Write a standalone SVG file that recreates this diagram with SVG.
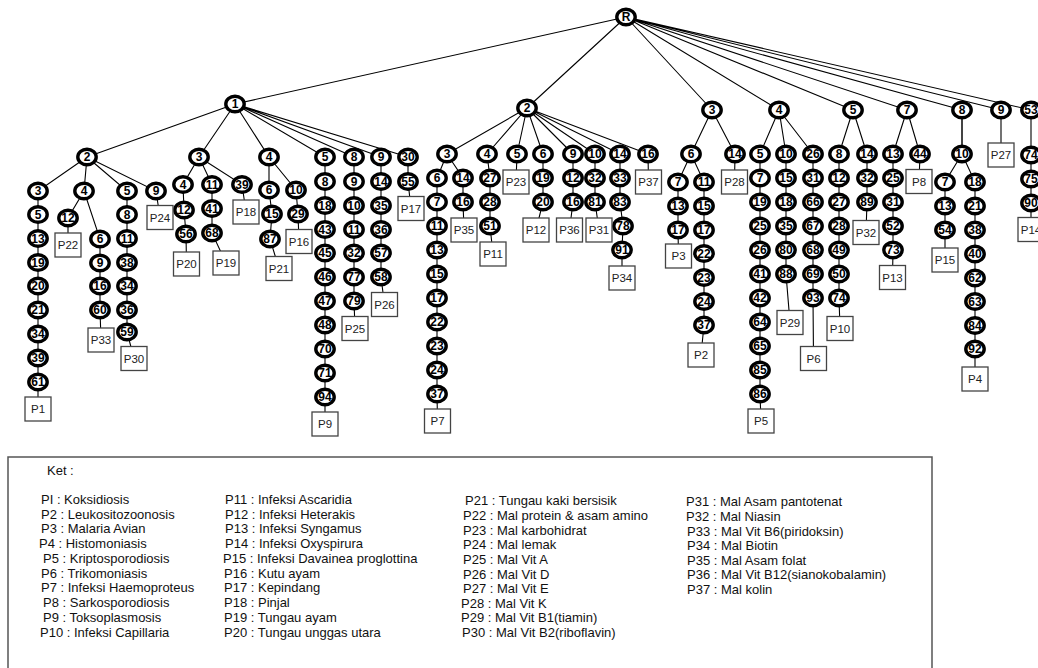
<svg xmlns="http://www.w3.org/2000/svg" width="1038" height="668" viewBox="0 0 1038 668">
<style>
.e path{stroke:#000;stroke-width:1.1;fill:none}
.nd ellipse{fill:#fff;stroke:#000;stroke-width:3.4}
.nd text{font-family:"Liberation Sans",Arial,sans-serif;font-weight:bold;font-size:12px;text-anchor:middle;fill:#000}
.bx rect{fill:#fff;stroke:#444;stroke-width:1.3}
.bx text{font-family:"Liberation Sans",Arial,sans-serif;font-size:11.5px;text-anchor:middle;fill:#222}
.lg text{font-family:"Liberation Sans",Arial,sans-serif;font-size:13px;fill:#111}
</style>
<rect width="1038" height="668" fill="#fff"/>
<g id="connectors" class="e">
<path d="M626 17L235 104M626 17L527 108M626 17L712 110M626 17L779 110M626 17L853 110M626 17L907 110M626 17L962 110M626 17L1001 110M626 17L1031 110"/>
<path d="M235 104L87 157M235 104L199 157M235 104L269 157M235 104L325 157M235 104L354 157M235 104L381 157M235 104L408 157"/>
<path d="M87 157L38 191L38 409M87 157L84 191M84 191L68 218L68 245M84 191L100 239L100 310L101 340M87 157L127 191L127 332L134 358.5M87 157L156 191L160 217.5"/>
<path d="M199 157L183 184.5L184 210L186 234L186.5 264M199 157L212 184.5L212 233L226 263M199 157L242 184.5L246 212"/>
<path d="M269 157L269 190L272 214L270 239L279 268.5M269 157L296 190L298 214L299 241.5"/>
<path d="M325 157L325 424M354 157L354 301L355 328.5M381 157L381 277L384.5 304.5M408 157L408 181.5L411 208.5"/>
<path d="M527 108L447 154M527 108L487 154M527 108L517 154M527 108L543 154M527 108L573 154M527 108L595 154M527 108L620 154M527 108L648 154"/>
<path d="M447 154L437 178L437 394L437.5 421M447 154L463 178L463 202L464 230M487 154L490 178L490 226L493 254M517 154L516 182M543 154L543 202L536 230M573 154L573 202L569.5 230M595 154L595 202L599 230M620 154L620 202L623 226L622 250L622 278M648 154L648.5 182"/>
<path d="M712 110L691 154M712 110L735 154M691 154L678 182L678 230L678.5 256M691 154L704 182L704 325L701 355M735 154L734.5 182"/>
<path d="M779 110L760 154M779 110L786 154M779 110L813 154M760 154L760 394L761 421M786 154L786 274L790 322.5M813 154L813 298L813.5 358.5"/>
<path d="M853 110L839 154M853 110L867 154M839 154L839 298L840 328.5M867 154L867 202L866 232.5"/>
<path d="M907 110L893 154M907 110L920 154M893 154L893 250L892.5 277.5M920 154L919 181.5"/>
<path d="M962 110L962 154" style="stroke:#444;stroke-width:2"/>
<path d="M962 154L945 182L945 260M962 154L975 182L975 379M1001 110L1001 155M1031 110L1031 229.5"/>
</g>
<g id="nodes">
<g id="n0" class="nd" transform="translate(626,17)"><ellipse rx="9.2" ry="7.8"/><text y="4.3">R</text></g>
<g id="n1" class="nd" transform="translate(235,104)"><ellipse rx="9.2" ry="7.8"/><text y="4.3">1</text></g>
<g id="n2" class="nd" transform="translate(527,108)"><ellipse rx="9.2" ry="7.8"/><text y="4.3">2</text></g>
<g id="n3" class="nd" transform="translate(712,110)"><ellipse rx="9.2" ry="7.8"/><text y="4.3">3</text></g>
<g id="n4" class="nd" transform="translate(779,110)"><ellipse rx="9.2" ry="7.8"/><text y="4.3">4</text></g>
<g id="n5" class="nd" transform="translate(853,110)"><ellipse rx="9.2" ry="7.8"/><text y="4.3">5</text></g>
<g id="n7" class="nd" transform="translate(907,110)"><ellipse rx="9.2" ry="7.8"/><text y="4.3">7</text></g>
<g id="n8" class="nd" transform="translate(962,110)"><ellipse rx="9.2" ry="7.8"/><text y="4.3">8</text></g>
<g id="n9" class="nd" transform="translate(1001,110)"><ellipse rx="9.2" ry="7.8"/><text y="4.3">9</text></g>
<g id="n53" class="nd" transform="translate(1031,110)"><ellipse rx="9.2" ry="7.8"/><text y="4.3">53</text></g>

<g id="a01" class="nd" transform="translate(87,157)"><ellipse rx="9.2" ry="7.8"/><text y="4.3">2</text></g>
<g id="a02" class="nd" transform="translate(199,157)"><ellipse rx="9.2" ry="7.8"/><text y="4.3">3</text></g>
<g id="a03" class="nd" transform="translate(269,157)"><ellipse rx="9.2" ry="7.8"/><text y="4.3">4</text></g>
<g id="a04" class="nd" transform="translate(325,157)"><ellipse rx="9.2" ry="7.8"/><text y="4.3">5</text></g>
<g id="a05" class="nd" transform="translate(354,157)"><ellipse rx="9.2" ry="7.8"/><text y="4.3">8</text></g>
<g id="a06" class="nd" transform="translate(381,157)"><ellipse rx="9.2" ry="7.8"/><text y="4.3">9</text></g>
<g id="a07" class="nd" transform="translate(408,157)"><ellipse rx="9.2" ry="7.8"/><text y="4.3">30</text></g>
<g id="a08" class="nd" transform="translate(38,191)"><ellipse rx="9.2" ry="7.8"/><text y="4.3">3</text></g>
<g id="a09" class="nd" transform="translate(38,214.5)"><ellipse rx="9.2" ry="7.8"/><text y="4.3">5</text></g>
<g id="a10" class="nd" transform="translate(38,238.5)"><ellipse rx="9.2" ry="7.8"/><text y="4.3">13</text></g>
<g id="a11" class="nd" transform="translate(38,262.5)"><ellipse rx="9.2" ry="7.8"/><text y="4.3">19</text></g>
<g id="a12" class="nd" transform="translate(38,286)"><ellipse rx="9.2" ry="7.8"/><text y="4.3">20</text></g>
<g id="a13" class="nd" transform="translate(38,310)"><ellipse rx="9.2" ry="7.8"/><text y="4.3">21</text></g>
<g id="a14" class="nd" transform="translate(38,334)"><ellipse rx="9.2" ry="7.8"/><text y="4.3">34</text></g>
<g id="a15" class="nd" transform="translate(38,358)"><ellipse rx="9.2" ry="7.8"/><text y="4.3">39</text></g>
<g id="a16" class="nd" transform="translate(38,382)"><ellipse rx="9.2" ry="7.8"/><text y="4.3">61</text></g>
<g id="a17" class="nd" transform="translate(84,191)"><ellipse rx="9.2" ry="7.8"/><text y="4.3">4</text></g>
<g id="a18" class="nd" transform="translate(68,218)"><ellipse rx="9.2" ry="7.8"/><text y="4.3">12</text></g>
<g id="a19" class="nd" transform="translate(100,239)"><ellipse rx="9.2" ry="7.8"/><text y="4.3">6</text></g>
<g id="a20" class="nd" transform="translate(100,263)"><ellipse rx="9.2" ry="7.8"/><text y="4.3">9</text></g>
<g id="a21" class="nd" transform="translate(100,286)"><ellipse rx="9.2" ry="7.8"/><text y="4.3">16</text></g>
<g id="a22" class="nd" transform="translate(100,310)"><ellipse rx="9.2" ry="7.8"/><text y="4.3">60</text></g>
<g id="a23" class="nd" transform="translate(127,191)"><ellipse rx="9.2" ry="7.8"/><text y="4.3">5</text></g>
<g id="a24" class="nd" transform="translate(127,214.5)"><ellipse rx="9.2" ry="7.8"/><text y="4.3">8</text></g>
<g id="a25" class="nd" transform="translate(127,238.5)"><ellipse rx="9.2" ry="7.8"/><text y="4.3">11</text></g>
<g id="a26" class="nd" transform="translate(127,262.5)"><ellipse rx="9.2" ry="7.8"/><text y="4.3">38</text></g>
<g id="a27" class="nd" transform="translate(127,286)"><ellipse rx="9.2" ry="7.8"/><text y="4.3">34</text></g>
<g id="a28" class="nd" transform="translate(127,310)"><ellipse rx="9.2" ry="7.8"/><text y="4.3">36</text></g>
<g id="a29" class="nd" transform="translate(127,332)"><ellipse rx="9.2" ry="7.8"/><text y="4.3">59</text></g>
<g id="a30" class="nd" transform="translate(156,191)"><ellipse rx="9.2" ry="7.8"/><text y="4.3">9</text></g>
<g id="a31" class="nd" transform="translate(183,184.5)"><ellipse rx="9.2" ry="7.8"/><text y="4.3">4</text></g>
<g id="a32" class="nd" transform="translate(184,210)"><ellipse rx="9.2" ry="7.8"/><text y="4.3">12</text></g>
<g id="a33" class="nd" transform="translate(186,234)"><ellipse rx="9.2" ry="7.8"/><text y="4.3">56</text></g>
<g id="a34" class="nd" transform="translate(212,184.5)"><ellipse rx="9.2" ry="7.8"/><text y="4.3">11</text></g>
<g id="a35" class="nd" transform="translate(212,208.5)"><ellipse rx="9.2" ry="7.8"/><text y="4.3">41</text></g>
<g id="a36" class="nd" transform="translate(212,233)"><ellipse rx="9.2" ry="7.8"/><text y="4.3">68</text></g>
<g id="a37" class="nd" transform="translate(242,184.5)"><ellipse rx="9.2" ry="7.8"/><text y="4.3">39</text></g>
<g id="a38" class="nd" transform="translate(269,190)"><ellipse rx="9.2" ry="7.8"/><text y="4.3">6</text></g>
<g id="a39" class="nd" transform="translate(272,214)"><ellipse rx="9.2" ry="7.8"/><text y="4.3">15</text></g>
<g id="a40" class="nd" transform="translate(270,239)"><ellipse rx="9.2" ry="7.8"/><text y="4.3">87</text></g>
<g id="a41" class="nd" transform="translate(296,190)"><ellipse rx="9.2" ry="7.8"/><text y="4.3">10</text></g>
<g id="a42" class="nd" transform="translate(298,214)"><ellipse rx="9.2" ry="7.8"/><text y="4.3">29</text></g>
<g id="a43" class="nd" transform="translate(325,181.5)"><ellipse rx="9.2" ry="7.8"/><text y="4.3">8</text></g>
<g id="a44" class="nd" transform="translate(325,205.5)"><ellipse rx="9.2" ry="7.8"/><text y="4.3">18</text></g>
<g id="a45" class="nd" transform="translate(325,229.5)"><ellipse rx="9.2" ry="7.8"/><text y="4.3">43</text></g>
<g id="a46" class="nd" transform="translate(325,253)"><ellipse rx="9.2" ry="7.8"/><text y="4.3">45</text></g>
<g id="a47" class="nd" transform="translate(325,277)"><ellipse rx="9.2" ry="7.8"/><text y="4.3">46</text></g>
<g id="a48" class="nd" transform="translate(325,301)"><ellipse rx="9.2" ry="7.8"/><text y="4.3">47</text></g>
<g id="a49" class="nd" transform="translate(325,325)"><ellipse rx="9.2" ry="7.8"/><text y="4.3">48</text></g>
<g id="a50" class="nd" transform="translate(325,349)"><ellipse rx="9.2" ry="7.8"/><text y="4.3">70</text></g>
<g id="a51" class="nd" transform="translate(325,373)"><ellipse rx="9.2" ry="7.8"/><text y="4.3">71</text></g>
<g id="a52" class="nd" transform="translate(325,397)"><ellipse rx="9.2" ry="7.8"/><text y="4.3">94</text></g>
<g id="a53" class="nd" transform="translate(354,181.5)"><ellipse rx="9.2" ry="7.8"/><text y="4.3">9</text></g>
<g id="a54" class="nd" transform="translate(354,205.5)"><ellipse rx="9.2" ry="7.8"/><text y="4.3">10</text></g>
<g id="a55" class="nd" transform="translate(354,229.5)"><ellipse rx="9.2" ry="7.8"/><text y="4.3">11</text></g>
<g id="a56" class="nd" transform="translate(354,253)"><ellipse rx="9.2" ry="7.8"/><text y="4.3">32</text></g>
<g id="a57" class="nd" transform="translate(354,277)"><ellipse rx="9.2" ry="7.8"/><text y="4.3">77</text></g>
<g id="a58" class="nd" transform="translate(354,301)"><ellipse rx="9.2" ry="7.8"/><text y="4.3">79</text></g>
<g id="a59" class="nd" transform="translate(381,181.5)"><ellipse rx="9.2" ry="7.8"/><text y="4.3">14</text></g>
<g id="a60" class="nd" transform="translate(381,205.5)"><ellipse rx="9.2" ry="7.8"/><text y="4.3">35</text></g>
<g id="a61" class="nd" transform="translate(381,229.5)"><ellipse rx="9.2" ry="7.8"/><text y="4.3">36</text></g>
<g id="a62" class="nd" transform="translate(381,253)"><ellipse rx="9.2" ry="7.8"/><text y="4.3">57</text></g>
<g id="a63" class="nd" transform="translate(381,277)"><ellipse rx="9.2" ry="7.8"/><text y="4.3">58</text></g>
<g id="a64" class="nd" transform="translate(408,181.5)"><ellipse rx="9.2" ry="7.8"/><text y="4.3">55</text></g>

<g id="b01" class="nd" transform="translate(447,154)"><ellipse rx="9.2" ry="7.8"/><text y="4.3">3</text></g>
<g id="b02" class="nd" transform="translate(487,154)"><ellipse rx="9.2" ry="7.8"/><text y="4.3">4</text></g>
<g id="b03" class="nd" transform="translate(517,154)"><ellipse rx="9.2" ry="7.8"/><text y="4.3">5</text></g>
<g id="b04" class="nd" transform="translate(543,154)"><ellipse rx="9.2" ry="7.8"/><text y="4.3">6</text></g>
<g id="b05" class="nd" transform="translate(573,154)"><ellipse rx="9.2" ry="7.8"/><text y="4.3">9</text></g>
<g id="b06" class="nd" transform="translate(595,154)"><ellipse rx="9.2" ry="7.8"/><text y="4.3">10</text></g>
<g id="b07" class="nd" transform="translate(620,154)"><ellipse rx="9.2" ry="7.8"/><text y="4.3">14</text></g>
<g id="b08" class="nd" transform="translate(648,154)"><ellipse rx="9.2" ry="7.8"/><text y="4.3">16</text></g>
<g id="b09" class="nd" transform="translate(437,178)"><ellipse rx="9.2" ry="7.8"/><text y="4.3">6</text></g>
<g id="b10" class="nd" transform="translate(437,202)"><ellipse rx="9.2" ry="7.8"/><text y="4.3">7</text></g>
<g id="b11" class="nd" transform="translate(437,226)"><ellipse rx="9.2" ry="7.8"/><text y="4.3">11</text></g>
<g id="b12" class="nd" transform="translate(437,250)"><ellipse rx="9.2" ry="7.8"/><text y="4.3">13</text></g>
<g id="b13" class="nd" transform="translate(437,274)"><ellipse rx="9.2" ry="7.8"/><text y="4.3">15</text></g>
<g id="b14" class="nd" transform="translate(437,298)"><ellipse rx="9.2" ry="7.8"/><text y="4.3">17</text></g>
<g id="b15" class="nd" transform="translate(437,322)"><ellipse rx="9.2" ry="7.8"/><text y="4.3">22</text></g>
<g id="b16" class="nd" transform="translate(437,346)"><ellipse rx="9.2" ry="7.8"/><text y="4.3">23</text></g>
<g id="b17" class="nd" transform="translate(437,370)"><ellipse rx="9.2" ry="7.8"/><text y="4.3">24</text></g>
<g id="b18" class="nd" transform="translate(437,394)"><ellipse rx="9.2" ry="7.8"/><text y="4.3">37</text></g>
<g id="b19" class="nd" transform="translate(463,178)"><ellipse rx="9.2" ry="7.8"/><text y="4.3">14</text></g>
<g id="b20" class="nd" transform="translate(463,202)"><ellipse rx="9.2" ry="7.8"/><text y="4.3">16</text></g>
<g id="b21" class="nd" transform="translate(490,178)"><ellipse rx="9.2" ry="7.8"/><text y="4.3">27</text></g>
<g id="b22" class="nd" transform="translate(490,202)"><ellipse rx="9.2" ry="7.8"/><text y="4.3">28</text></g>
<g id="b23" class="nd" transform="translate(490,226)"><ellipse rx="9.2" ry="7.8"/><text y="4.3">51</text></g>
<g id="b24" class="nd" transform="translate(543,178)"><ellipse rx="9.2" ry="7.8"/><text y="4.3">19</text></g>
<g id="b25" class="nd" transform="translate(543,202)"><ellipse rx="9.2" ry="7.8"/><text y="4.3">20</text></g>
<g id="b26" class="nd" transform="translate(573,178)"><ellipse rx="9.2" ry="7.8"/><text y="4.3">12</text></g>
<g id="b27" class="nd" transform="translate(573,202)"><ellipse rx="9.2" ry="7.8"/><text y="4.3">16</text></g>
<g id="b28" class="nd" transform="translate(595,178)"><ellipse rx="9.2" ry="7.8"/><text y="4.3">32</text></g>
<g id="b29" class="nd" transform="translate(595,202)"><ellipse rx="9.2" ry="7.8"/><text y="4.3">81</text></g>
<g id="b30" class="nd" transform="translate(620,178)"><ellipse rx="9.2" ry="7.8"/><text y="4.3">33</text></g>
<g id="b31" class="nd" transform="translate(620,202)"><ellipse rx="9.2" ry="7.8"/><text y="4.3">83</text></g>
<g id="b32" class="nd" transform="translate(623,226)"><ellipse rx="9.2" ry="7.8"/><text y="4.3">78</text></g>
<g id="b33" class="nd" transform="translate(622,250)"><ellipse rx="9.2" ry="7.8"/><text y="4.3">91</text></g>

<g id="c01" class="nd" transform="translate(691,154)"><ellipse rx="9.2" ry="7.8"/><text y="4.3">6</text></g>
<g id="c02" class="nd" transform="translate(735,154)"><ellipse rx="9.2" ry="7.8"/><text y="4.3">14</text></g>
<g id="c03" class="nd" transform="translate(678,182)"><ellipse rx="9.2" ry="7.8"/><text y="4.3">7</text></g>
<g id="c04" class="nd" transform="translate(678,206)"><ellipse rx="9.2" ry="7.8"/><text y="4.3">13</text></g>
<g id="c05" class="nd" transform="translate(678,230)"><ellipse rx="9.2" ry="7.8"/><text y="4.3">17</text></g>
<g id="c06" class="nd" transform="translate(704,182)"><ellipse rx="9.2" ry="7.8"/><text y="4.3">11</text></g>
<g id="c07" class="nd" transform="translate(704,206)"><ellipse rx="9.2" ry="7.8"/><text y="4.3">15</text></g>
<g id="c08" class="nd" transform="translate(704,230)"><ellipse rx="9.2" ry="7.8"/><text y="4.3">17</text></g>
<g id="c09" class="nd" transform="translate(704,253.5)"><ellipse rx="9.2" ry="7.8"/><text y="4.3">22</text></g>
<g id="c10" class="nd" transform="translate(704,277.5)"><ellipse rx="9.2" ry="7.8"/><text y="4.3">23</text></g>
<g id="c11" class="nd" transform="translate(704,301.5)"><ellipse rx="9.2" ry="7.8"/><text y="4.3">24</text></g>
<g id="c12" class="nd" transform="translate(704,325)"><ellipse rx="9.2" ry="7.8"/><text y="4.3">37</text></g>

<g id="d01" class="nd" transform="translate(760,154)"><ellipse rx="9.2" ry="7.8"/><text y="4.3">5</text></g>
<g id="d02" class="nd" transform="translate(760,178)"><ellipse rx="9.2" ry="7.8"/><text y="4.3">7</text></g>
<g id="d03" class="nd" transform="translate(760,202)"><ellipse rx="9.2" ry="7.8"/><text y="4.3">19</text></g>
<g id="d04" class="nd" transform="translate(760,226)"><ellipse rx="9.2" ry="7.8"/><text y="4.3">25</text></g>
<g id="d05" class="nd" transform="translate(760,250)"><ellipse rx="9.2" ry="7.8"/><text y="4.3">26</text></g>
<g id="d06" class="nd" transform="translate(760,274)"><ellipse rx="9.2" ry="7.8"/><text y="4.3">41</text></g>
<g id="d07" class="nd" transform="translate(760,298)"><ellipse rx="9.2" ry="7.8"/><text y="4.3">42</text></g>
<g id="d08" class="nd" transform="translate(760,322)"><ellipse rx="9.2" ry="7.8"/><text y="4.3">64</text></g>
<g id="d09" class="nd" transform="translate(760,346)"><ellipse rx="9.2" ry="7.8"/><text y="4.3">65</text></g>
<g id="d10" class="nd" transform="translate(760,370)"><ellipse rx="9.2" ry="7.8"/><text y="4.3">85</text></g>
<g id="d11" class="nd" transform="translate(760,394)"><ellipse rx="9.2" ry="7.8"/><text y="4.3">86</text></g>
<g id="d12" class="nd" transform="translate(786,154)"><ellipse rx="9.2" ry="7.8"/><text y="4.3">10</text></g>
<g id="d13" class="nd" transform="translate(786,178)"><ellipse rx="9.2" ry="7.8"/><text y="4.3">15</text></g>
<g id="d14" class="nd" transform="translate(786,202)"><ellipse rx="9.2" ry="7.8"/><text y="4.3">18</text></g>
<g id="d15" class="nd" transform="translate(786,226)"><ellipse rx="9.2" ry="7.8"/><text y="4.3">35</text></g>
<g id="d16" class="nd" transform="translate(786,250)"><ellipse rx="9.2" ry="7.8"/><text y="4.3">80</text></g>
<g id="d17" class="nd" transform="translate(786,274)"><ellipse rx="9.2" ry="7.8"/><text y="4.3">88</text></g>
<g id="d18" class="nd" transform="translate(813,154)"><ellipse rx="9.2" ry="7.8"/><text y="4.3">26</text></g>
<g id="d19" class="nd" transform="translate(813,178)"><ellipse rx="9.2" ry="7.8"/><text y="4.3">31</text></g>
<g id="d20" class="nd" transform="translate(813,202)"><ellipse rx="9.2" ry="7.8"/><text y="4.3">66</text></g>
<g id="d21" class="nd" transform="translate(813,226)"><ellipse rx="9.2" ry="7.8"/><text y="4.3">67</text></g>
<g id="d22" class="nd" transform="translate(813,250)"><ellipse rx="9.2" ry="7.8"/><text y="4.3">68</text></g>
<g id="d23" class="nd" transform="translate(813,274)"><ellipse rx="9.2" ry="7.8"/><text y="4.3">69</text></g>
<g id="d24" class="nd" transform="translate(813,298)"><ellipse rx="9.2" ry="7.8"/><text y="4.3">93</text></g>

<g id="e01" class="nd" transform="translate(839,154)"><ellipse rx="9.2" ry="7.8"/><text y="4.3">8</text></g>
<g id="e02" class="nd" transform="translate(839,178)"><ellipse rx="9.2" ry="7.8"/><text y="4.3">12</text></g>
<g id="e03" class="nd" transform="translate(839,202)"><ellipse rx="9.2" ry="7.8"/><text y="4.3">27</text></g>
<g id="e04" class="nd" transform="translate(839,226)"><ellipse rx="9.2" ry="7.8"/><text y="4.3">28</text></g>
<g id="e05" class="nd" transform="translate(839,250)"><ellipse rx="9.2" ry="7.8"/><text y="4.3">49</text></g>
<g id="e06" class="nd" transform="translate(839,274)"><ellipse rx="9.2" ry="7.8"/><text y="4.3">50</text></g>
<g id="e07" class="nd" transform="translate(839,298)"><ellipse rx="9.2" ry="7.8"/><text y="4.3">74</text></g>
<g id="e08" class="nd" transform="translate(867,154)"><ellipse rx="9.2" ry="7.8"/><text y="4.3">14</text></g>
<g id="e09" class="nd" transform="translate(867,178)"><ellipse rx="9.2" ry="7.8"/><text y="4.3">32</text></g>
<g id="e10" class="nd" transform="translate(867,202)"><ellipse rx="9.2" ry="7.8"/><text y="4.3">89</text></g>

<g id="f01" class="nd" transform="translate(893,154)"><ellipse rx="9.2" ry="7.8"/><text y="4.3">13</text></g>
<g id="f02" class="nd" transform="translate(893,178)"><ellipse rx="9.2" ry="7.8"/><text y="4.3">25</text></g>
<g id="f03" class="nd" transform="translate(893,202)"><ellipse rx="9.2" ry="7.8"/><text y="4.3">31</text></g>
<g id="f04" class="nd" transform="translate(893,226)"><ellipse rx="9.2" ry="7.8"/><text y="4.3">52</text></g>
<g id="f05" class="nd" transform="translate(893,250)"><ellipse rx="9.2" ry="7.8"/><text y="4.3">73</text></g>
<g id="f06" class="nd" transform="translate(920,154)"><ellipse rx="9.2" ry="7.8"/><text y="4.3">44</text></g>

<g id="g01" class="nd" transform="translate(962,154)"><ellipse rx="9.2" ry="7.8"/><text y="4.3">10</text></g>
<g id="g02" class="nd" transform="translate(945,182)"><ellipse rx="9.2" ry="7.8"/><text y="4.3">7</text></g>
<g id="g03" class="nd" transform="translate(945,206)"><ellipse rx="9.2" ry="7.8"/><text y="4.3">13</text></g>
<g id="g04" class="nd" transform="translate(945,230)"><ellipse rx="9.2" ry="7.8"/><text y="4.3">54</text></g>
<g id="g05" class="nd" transform="translate(975,182)"><ellipse rx="9.2" ry="7.8"/><text y="4.3">18</text></g>
<g id="g06" class="nd" transform="translate(975,206)"><ellipse rx="9.2" ry="7.8"/><text y="4.3">21</text></g>
<g id="g07" class="nd" transform="translate(975,230)"><ellipse rx="9.2" ry="7.8"/><text y="4.3">38</text></g>
<g id="g08" class="nd" transform="translate(975,254)"><ellipse rx="9.2" ry="7.8"/><text y="4.3">40</text></g>
<g id="g09" class="nd" transform="translate(975,278)"><ellipse rx="9.2" ry="7.8"/><text y="4.3">62</text></g>
<g id="g10" class="nd" transform="translate(975,301.5)"><ellipse rx="9.2" ry="7.8"/><text y="4.3">63</text></g>
<g id="g11" class="nd" transform="translate(975,325.5)"><ellipse rx="9.2" ry="7.8"/><text y="4.3">84</text></g>
<g id="g12" class="nd" transform="translate(975,349)"><ellipse rx="9.2" ry="7.8"/><text y="4.3">92</text></g>

<g id="h01" class="nd" transform="translate(1031,155)"><ellipse rx="9.2" ry="7.8"/><text y="4.3">74</text></g>
<g id="h02" class="nd" transform="translate(1031,179)"><ellipse rx="9.2" ry="7.8"/><text y="4.3">75</text></g>
<g id="h03" class="nd" transform="translate(1031,203)"><ellipse rx="9.2" ry="7.8"/><text y="4.3">90</text></g>
</g>
<g id="leaves">
<g id="P1" class="bx" transform="translate(38,409)"><rect x="-13" y="-12" width="26" height="24"/><text y="4">P1</text></g>
<g id="P22" class="bx" transform="translate(68,245)"><rect x="-13" y="-12" width="26" height="24"/><text y="4">P22</text></g>
<g id="P33" class="bx" transform="translate(101,340)"><rect x="-13" y="-12" width="26" height="24"/><text y="4">P33</text></g>
<g id="P30" class="bx" transform="translate(134,358.5)"><rect x="-13" y="-12" width="26" height="24"/><text y="4">P30</text></g>
<g id="P24" class="bx" transform="translate(160,217.5)"><rect x="-13" y="-12" width="26" height="24"/><text y="4">P24</text></g>
<g id="P20" class="bx" transform="translate(186.5,264)"><rect x="-13" y="-12" width="26" height="24"/><text y="4">P20</text></g>
<g id="P19" class="bx" transform="translate(226,263)"><rect x="-13" y="-12" width="26" height="24"/><text y="4">P19</text></g>
<g id="P18" class="bx" transform="translate(246,212)"><rect x="-13" y="-12" width="26" height="24"/><text y="4">P18</text></g>
<g id="P21" class="bx" transform="translate(279,268.5)"><rect x="-13" y="-12" width="26" height="24"/><text y="4">P21</text></g>
<g id="P16" class="bx" transform="translate(299,241.5)"><rect x="-13" y="-12" width="26" height="24"/><text y="4">P16</text></g>
<g id="P9" class="bx" transform="translate(325,424)"><rect x="-13" y="-12" width="26" height="24"/><text y="4">P9</text></g>
<g id="P25" class="bx" transform="translate(355,328.5)"><rect x="-13" y="-12" width="26" height="24"/><text y="4">P25</text></g>
<g id="P26" class="bx" transform="translate(384.5,304.5)"><rect x="-13" y="-12" width="26" height="24"/><text y="4">P26</text></g>
<g id="P17" class="bx" transform="translate(411,208.5)"><rect x="-13" y="-12" width="26" height="24"/><text y="4">P17</text></g>
<g id="P7" class="bx" transform="translate(437.5,421)"><rect x="-13" y="-12" width="26" height="24"/><text y="4">P7</text></g>
<g id="P35" class="bx" transform="translate(464,230)"><rect x="-13" y="-12" width="26" height="24"/><text y="4">P35</text></g>
<g id="P11" class="bx" transform="translate(493,254)"><rect x="-13" y="-12" width="26" height="24"/><text y="4">P11</text></g>
<g id="P23" class="bx" transform="translate(516,182)"><rect x="-13" y="-12" width="26" height="24"/><text y="4">P23</text></g>
<g id="P12" class="bx" transform="translate(536,230)"><rect x="-13" y="-12" width="26" height="24"/><text y="4">P12</text></g>
<g id="P36" class="bx" transform="translate(569.5,230)"><rect x="-13" y="-12" width="26" height="24"/><text y="4">P36</text></g>
<g id="P31" class="bx" transform="translate(599,230)"><rect x="-13" y="-12" width="26" height="24"/><text y="4">P31</text></g>
<g id="P34" class="bx" transform="translate(622,278)"><rect x="-13" y="-12" width="26" height="24"/><text y="4">P34</text></g>
<g id="P37" class="bx" transform="translate(648.5,182)"><rect x="-13" y="-12" width="26" height="24"/><text y="4">P37</text></g>
<g id="P3" class="bx" transform="translate(678.5,256)"><rect x="-13" y="-12" width="26" height="24"/><text y="4">P3</text></g>
<g id="P2" class="bx" transform="translate(701,355)"><rect x="-13" y="-12" width="26" height="24"/><text y="4">P2</text></g>
<g id="P28" class="bx" transform="translate(734.5,182)"><rect x="-13" y="-12" width="26" height="24"/><text y="4">P28</text></g>
<g id="P5" class="bx" transform="translate(761,421)"><rect x="-13" y="-12" width="26" height="24"/><text y="4">P5</text></g>
<g id="P29" class="bx" transform="translate(790,322.5)"><rect x="-13" y="-12" width="26" height="24"/><text y="4">P29</text></g>
<g id="P6" class="bx" transform="translate(813.5,358.5)"><rect x="-13" y="-12" width="26" height="24"/><text y="4">P6</text></g>
<g id="P10" class="bx" transform="translate(840,328.5)"><rect x="-13" y="-12" width="26" height="24"/><text y="4">P10</text></g>
<g id="P32" class="bx" transform="translate(866,232.5)"><rect x="-13" y="-12" width="26" height="24"/><text y="4">P32</text></g>
<g id="P13" class="bx" transform="translate(892.5,277.5)"><rect x="-13" y="-12" width="26" height="24"/><text y="4">P13</text></g>
<g id="P8" class="bx" transform="translate(919,181.5)"><rect x="-13" y="-12" width="26" height="24"/><text y="4">P8</text></g>
<g id="P15" class="bx" transform="translate(945,260)"><rect x="-13" y="-12" width="26" height="24"/><text y="4">P15</text></g>
<g id="P4" class="bx" transform="translate(975,379)"><rect x="-13" y="-12" width="26" height="24"/><text y="4">P4</text></g>
<g id="P27" class="bx" transform="translate(1001,155)"><rect x="-13" y="-12" width="26" height="24"/><text y="4">P27</text></g>
<g id="P14" class="bx" transform="translate(1031,229.5)"><rect x="-13" y="-12" width="26" height="24"/><text y="4">P14</text></g>
</g>
<g id="legend" class="lg">
<rect x="8" y="457" width="924" height="215" fill="#fff" stroke="#555" stroke-width="1.5"/>
<text x="47" y="475">Ket :</text>
<text x="41" y="504">PI : Koksidiosis</text>
<text x="41" y="518.5">P2 : Leukositozoonosis</text>
<text x="41" y="533">P3 : Malaria Avian</text>
<text x="39" y="548">P4 : Histomoniasis</text>
<text x="43" y="563">P5 : Kriptosporodiosis</text>
<text x="41" y="577.5">P6 : Trikomoniasis</text>
<text x="41" y="592">P7 : Infeksi Haemoproteus</text>
<text x="43" y="607">P8 : Sarkosporodiosis</text>
<text x="43" y="622">P9 : Toksoplasmosis</text>
<text x="40" y="637">P10 : Infeksi Capillaria</text>
<text x="225" y="504">P11 : Infeksi Ascaridia</text>
<text x="225" y="518.5">P12 : Infeksi Heterakis</text>
<text x="225" y="533">P13 : Infeksi Syngamus</text>
<text x="225" y="548">P14 : Infeksi Oxyspirura</text>
<text x="223" y="563">P15 : Infeksi Davainea proglottina</text>
<text x="224" y="577.5">P16 : Kutu ayam</text>
<text x="224" y="592">P17 : Kepindang</text>
<text x="224" y="607">P18 : Pinjal</text>
<text x="224" y="622">P19 : Tungau ayam</text>
<text x="224" y="637">P20 : Tungau unggas utara</text>
<text x="465" y="505">P21 : Tungau kaki bersisik</text>
<text x="463" y="520">P22 : Mal protein &amp; asam amino</text>
<text x="463" y="534.5">P23 : Mal karbohidrat</text>
<text x="463" y="549">P24 : Mal lemak</text>
<text x="463" y="564">P25 : Mal Vit A</text>
<text x="463" y="578.5">P26 : Mal Vit D</text>
<text x="463" y="593">P27 : Mal Vit E</text>
<text x="461" y="607.5">P28 : Mal Vit K</text>
<text x="461" y="622">P29 : Mal Vit B1(tiamin)</text>
<text x="462" y="637">P30 : Mal Vit B2(riboflavin)</text>
<text x="686" y="506">P31 : Mal Asam pantotenat</text>
<text x="686" y="521">P32 : Mal Niasin</text>
<text x="687" y="535.5">P33 : Mal Vit B6(piridoksin)</text>
<text x="687" y="550">P34 : Mal Biotin</text>
<text x="687" y="564.5">P35 : Mal Asam folat</text>
<text x="687" y="579">P36 : Mal Vit B12(sianokobalamin)</text>
<text x="687" y="593.5">P37 : Mal kolin</text>
</g>
</svg>
